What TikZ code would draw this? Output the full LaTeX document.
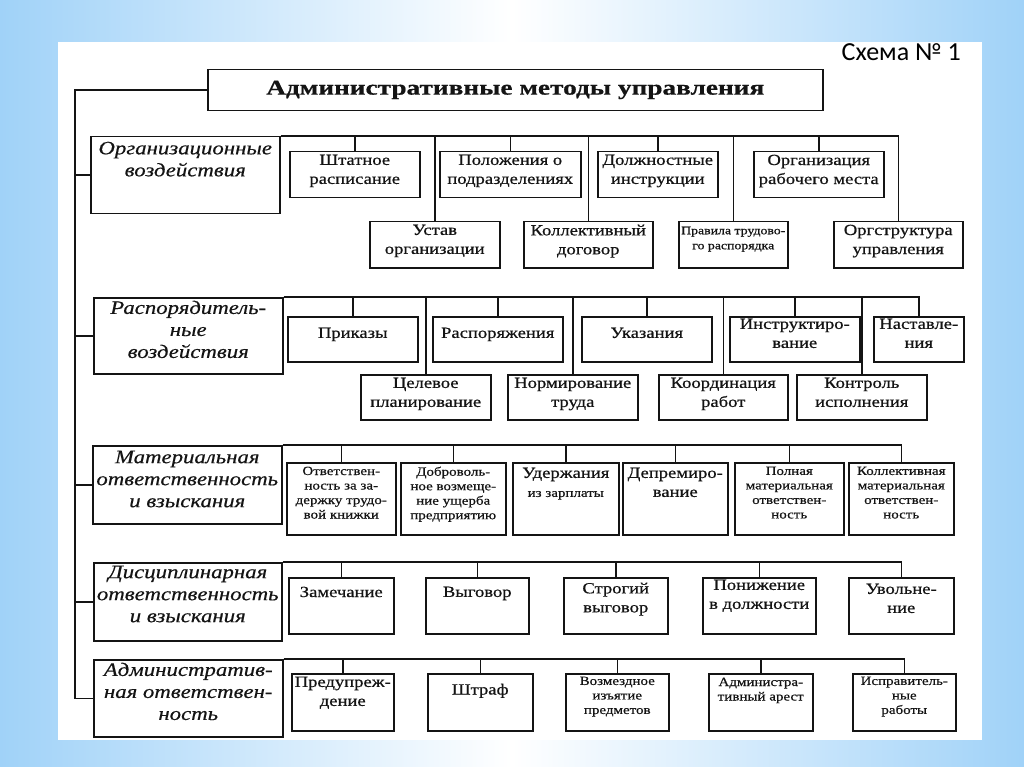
\documentclass[tikz,border=0pt]{standalone}
\usepackage{fontspec}
\setmainfont[FakeStretch=1.2,FakeBold=0.6]{Liberation Serif}
\newfontfamily\catfont[FakeStretch=1.2,FakeBold=0.4]{Liberation Serif}
\newfontfamily\titlefont[FakeStretch=1.3,FakeBold=0.6]{Liberation Serif}
\newfontfamily\labelfont{Carlito}
\definecolor{bgblue}{RGB}{160,210,248}
\definecolor{ink}{RGB}{20,20,20}

% top aligned text inside a box of fixed size: [pad]{width}{height}{text}
\newcommand\cell[4][4]{\parbox[c][#3pt][t]{#2pt}{\centering\vspace*{#1pt}#4}}

\tikzset{
  box/.style={draw=ink, line width=1.5pt, inner sep=0pt, anchor=north west, text=ink,
    font=\fontsize{15.5}{19}\selectfont},
  smalltext/.style={font=\fontsize{12.5}{14.5}\selectfont},
  catbox/.style={box, font=\catfont\itshape\fontsize{19}{22}\selectfont},
  link/.style={draw=ink, line width=1.5pt}
}

\begin{document}
\begin{tikzpicture}[x=1pt,y=-1pt]
\useasboundingbox (0,0) rectangle (1024,767);

% background
\shade[left color=bgblue, right color=bgblue, middle color=white] (0,0) rectangle (1024,767);
\fill[white] (58,42) rectangle (982,740);

\node[anchor=north east, font=\labelfont\fontsize{26}{30}\selectfont, inner sep=0pt] (scheme) at (961,43) {Схема № 1};

% title
\node[box, font=\titlefont\bfseries\fontsize{21}{24}\selectfont] (title) at (207,69) {\cell[11]{615}{41}{Административные методы управления}};

% categories
\node[catbox] (org) at (90,136) {\cell[5]{189}{77}{Организационные\\воздействия}};
\node[catbox] (rasp) at (93,297) {\cell[3]{189}{76}{Распорядитель-\\ные\\воздействия}};
\node[catbox] (mat) at (92,445) {\cell[5]{189}{78}{Материальная\\ответственность\\и взыскания}};
\node[catbox] (disc) at (93,562) {\cell[3]{188}{78}{Дисциплинарная\\ответственность\\и взыскания}};
\node[catbox] (adm) at (93,659) {\cell[3]{189}{77}{Административ-\\ная ответствен-\\ность}};

% trunk
\coordinate (trunk) at (75,88);
\draw[link] (title.west) -- (title.west -| trunk) -- (adm.west -| trunk) -- (adm.west);
\foreach \c in {org,rasp,mat,disc}
  \draw[link] (\c.west -| trunk) -- (\c.west);

% organizational
\node[box] (shtat) at (289,151) {\cell[3]{130}{46}{Штатное\\расписание}};
\node[box] (polozh) at (439,151) {\cell[3]{141}{46}{Положения о\\подразделениях}};
\node[box] (dolzh) at (597,151) {\cell[3]{120}{46}{Должностные\\инструкции}};
\node[box] (rabmesto) at (753,151) {\cell[3]{130}{46}{Организация\\рабочего места}};
\node[box] (ustav) at (369,221) {\cell[3]{130}{46}{Устав\\организации}};
\node[box] (koldog) at (523,221) {\cell[3]{129}{46}{Коллективный\\договор}};
\node[box, font=\fontsize{11.5}{15}\selectfont] (pravila) at (678,221) {\cell[5]{109}{46}{Правила трудово-\\го распорядка}};
\node[box] (orgstr) at (833,221) {\cell[3]{129}{46}{Оргструктура\\управления}};
\draw[link] (org.north east) -- (orgstr.north |- org.north east) -- (orgstr.north);
\foreach \b in {shtat,polozh,dolzh,rabmesto,ustav,koldog,pravila}
  \draw[link] (\b.north) -- (\b.north |- org.north east);

% administrative orders
\node[box] (prikaz) at (287,316) {\cell[11]{130}{45}{Приказы}};
\node[box] (rasporyazh) at (432,316) {\cell[11]{130}{45}{Распоряжения}};
\node[box] (ukaz) at (581,316) {\cell[11]{130}{45}{Указания}};
\node[box] (instr) at (729,316) {\cell[2]{130}{45}{Инструктиро-\\вание}};
\node[box] (nastav) at (873,316) {\cell[2]{90}{45}{Наставле-\\ния}};
\node[box] (celplan) at (360,374) {\cell[3]{130}{45}{Целевое\\планирование}};
\node[box] (norm) at (507,374) {\cell[3]{130}{45}{Нормирование\\труда}};
\node[box] (koord) at (658,374) {\cell[3]{129}{45}{Координация\\работ}};
\node[box] (kontrol) at (796,374) {\cell[3]{130}{45}{Контроль\\исполнения}};
\draw[link] (rasp.north east) -- (nastav.north |- rasp.north east) -- (nastav.north);
\foreach \b in {prikaz,rasporyazh,ukaz,instr,celplan,norm,koord,kontrol}
  \draw[link] (\b.north) -- (\b.north |- rasp.north east);

% material liability
\node[box, smalltext] (trudknizh) at (286,462) {\cell[4]{109}{72}{Ответствен-\\ность за за-\\держку трудо-\\вой книжки}};
\node[box, smalltext] (dobrovol) at (400,462) {\cell[4]{105}{72}{Доброволь-\\ное возмеще-\\ние ущерба\\предприятию}};
\node[box] (uderzh) at (512,462) {\cell[5]{106}{72}{Удержания\\{\fontsize{12.5}{14.5}\selectfont из зарплаты}}};
\node[box] (deprem) at (622,462) {\cell[5]{105}{72}{Депремиро-\\вание}};
\node[box, smalltext] (polnaya) at (734,462) {\cell[4]{109}{72}{Полная\\материальная\\ответствен-\\ность}};
\node[box, smalltext] (kollekt) at (848,462) {\cell[4]{105}{72}{Коллективная\\материальная\\ответствен-\\ность}};
\draw[link] (mat.north east) -- (kollekt.north |- mat.north east) -- (kollekt.north);
\foreach \b in {trudknizh,dobrovol,uderzh,deprem,polnaya}
  \draw[link] (\b.north) -- (\b.north |- mat.north east);

% disciplinary liability
\node[box] (zamech) at (288,577) {\cell[9]{105}{56}{Замечание}};
\node[box] (vygovor) at (425,577) {\cell[9]{103}{56}{Выговор}};
\node[box] (strogiy) at (563,577) {\cell[5]{104}{56}{Строгий\\выговор}};
\node[box] (ponizh) at (702,577) {\cell[2]{113}{56}{Понижение\\в должности}};
\node[box] (uvoln) at (848,577) {\cell[6]{105}{56}{Увольне-\\ние}};
\draw[link] (disc.north east) -- (uvoln.north |- disc.north east) -- (uvoln.north);
\foreach \b in {zamech,vygovor,strogiy,ponizh}
  \draw[link] (\b.north) -- (\b.north |- disc.north east);

% administrative liability
\node[box] (predupr) at (291,673) {\cell[3]{102}{57}{Предупреж-\\дение}};
\node[box] (shtraf) at (427,673) {\cell[10]{105}{57}{Штраф}};
\node[box, smalltext] (vozmezd) at (565,673) {\cell[3]{103}{57}{Возмездное\\изъятие\\предметов}};
\node[box, smalltext] (arest) at (708,673) {\cell[4]{104}{57}{Администра-\\тивный арест}};
\node[box, smalltext] (ispr) at (852,673) {\cell[3]{103}{57}{Исправитель-\\ные\\работы}};
\draw[link] (adm.north east) -- (ispr.north |- adm.north east) -- (ispr.north);
\foreach \b in {predupr,shtraf,vozmezd,arest}
  \draw[link] (\b.north) -- (\b.north |- adm.north east);

\end{tikzpicture}
\end{document}
